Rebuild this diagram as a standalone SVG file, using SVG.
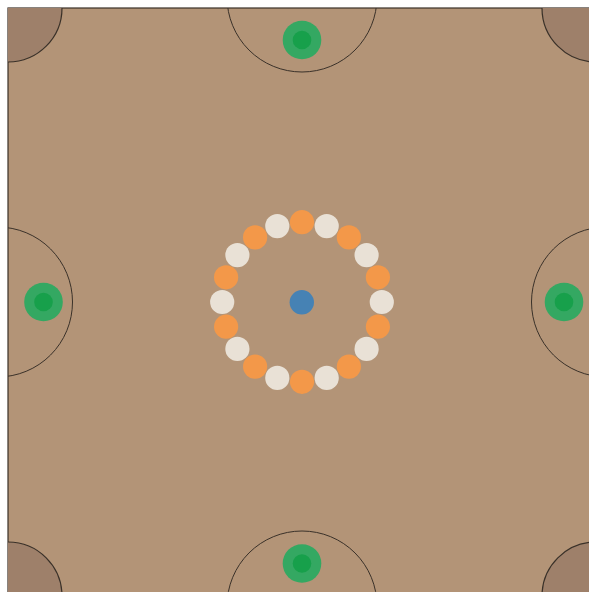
<svg xmlns="http://www.w3.org/2000/svg" width="589" height="592" viewBox="0 0 589 592">
<style>
.field{fill:#b39477;stroke:#3a3129;stroke-width:1.2}
.corner{fill:#9e806a;stroke:#3a3129;stroke-width:1.2}
.arc{fill:none;stroke:#3a3129;stroke-width:1}
.gout{fill:#34a862}
.gin{fill:#17a04b}
.o{fill:#f39849}
.w{fill:#e9e1d6}
.hub{fill:#4682b4}
</style>
<defs>
<clipPath id="fc"><rect x="8" y="8" width="588" height="588"/></clipPath>
</defs>
<rect width="589" height="592" fill="#ffffff"/>
<g id="field">
<rect class="field" x="8" y="8" width="588" height="588"/>
</g>
<g id="zones" clip-path="url(#fc)">
<circle class="corner" cx="8" cy="8" r="54"/>
<circle class="corner" cx="596" cy="8" r="54"/>
<circle class="corner" cx="8" cy="596" r="54"/>
<circle class="corner" cx="596" cy="596" r="54"/>
<circle class="arc" cx="302" cy="-3" r="75"/>
<circle class="arc" cx="302" cy="606" r="75"/>
<circle class="arc" cx="-2.5" cy="302" r="75"/>
<circle class="arc" cx="606.5" cy="302" r="75"/>
</g>
<g id="goal-top"><circle class="gout" cx="302" cy="40" r="19.3"/><circle class="gin" cx="302" cy="40" r="9.3"/></g>
<g id="goal-bottom"><circle class="gout" cx="302" cy="563.5" r="19.3"/><circle class="gin" cx="302" cy="563.5" r="9.3"/></g>
<g id="goal-left"><circle class="gout" cx="43.5" cy="302" r="19.3"/><circle class="gin" cx="43.5" cy="302" r="9.3"/></g>
<g id="goal-right"><circle class="gout" cx="564" cy="302" r="19.3"/><circle class="gin" cx="564" cy="302" r="9.3"/></g>
<g id="ring">
<circle class="o" cx="302.0" cy="222.2" r="12.1"/>
<circle class="w" cx="326.7" cy="226.1" r="12.1"/>
<circle class="o" cx="348.9" cy="237.4" r="12.1"/>
<circle class="w" cx="366.6" cy="255.1" r="12.1"/>
<circle class="o" cx="377.9" cy="277.3" r="12.1"/>
<circle class="w" cx="381.8" cy="302.0" r="12.1"/>
<circle class="o" cx="377.9" cy="326.7" r="12.1"/>
<circle class="w" cx="366.6" cy="348.9" r="12.1"/>
<circle class="o" cx="348.9" cy="366.6" r="12.1"/>
<circle class="w" cx="326.7" cy="377.9" r="12.1"/>
<circle class="o" cx="302.0" cy="381.8" r="12.1"/>
<circle class="w" cx="277.3" cy="377.9" r="12.1"/>
<circle class="o" cx="255.1" cy="366.6" r="12.1"/>
<circle class="w" cx="237.4" cy="348.9" r="12.1"/>
<circle class="o" cx="226.1" cy="326.7" r="12.1"/>
<circle class="w" cx="222.2" cy="302.0" r="12.1"/>
<circle class="o" cx="226.1" cy="277.3" r="12.1"/>
<circle class="w" cx="237.4" cy="255.1" r="12.1"/>
<circle class="o" cx="255.1" cy="237.4" r="12.1"/>
<circle class="w" cx="277.3" cy="226.1" r="12.1"/>
</g>
<g id="hub"><circle class="hub" cx="301.8" cy="302.3" r="12.2"/></g>
<g id="connectors"></g>
</svg>
